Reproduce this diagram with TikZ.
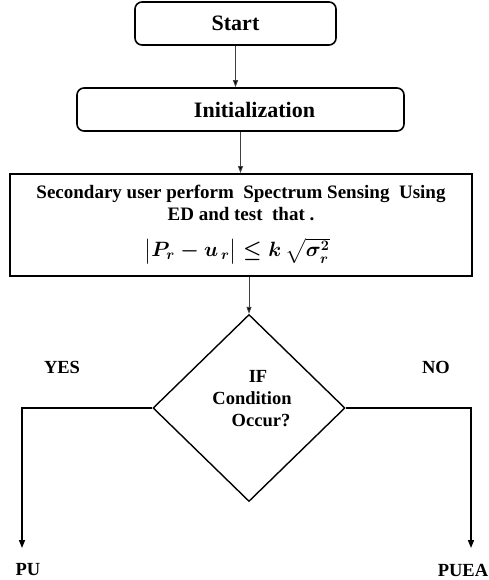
\documentclass[tikz,border=0pt]{standalone}
\usepackage{amsmath}
\usepackage{fontspec}
\setmainfont{Liberation Serif}
\usetikzlibrary{calc, shapes, shapes.geometric, arrows.meta}

\begin{document}
\begin{tikzpicture}[x=1pt,y=-1pt,
        roundbox/.style={draw, line width=1.6pt, rounded corners=7pt, font=\bfseries\fontsize{22}{24}\selectfont},
        sensetxt/.style={align=center, inner sep=0pt, font=\bfseries\fontsize{19}{22}\selectfont},
        lbl/.style={inner sep=1pt, font=\bfseries\fontsize{18.5}{22}\selectfont},
        flow/.style={draw=black!75, line width=0.9pt, -{Triangle[length=7pt,width=5pt,fill=black]}},
        branch/.style={line width=1.5pt, -{Triangle[length=8pt,width=6pt]}}]
    \useasboundingbox (0,0) rectangle (488,580);

    \node[roundbox, minimum width=201pt, minimum height=43pt] (start) at (235.5,23.5) {Start};
    \node[roundbox, minimum width=327pt, minimum height=43pt] (init) at (240.5,109.5) {\hspace*{28pt}Initialization};
    \node[draw, line width=2pt, minimum width=462pt, minimum height=102pt] (sense) at (241,225) {};
    \node[sensetxt] (sensetext) at (241,203)
        {Secondary user perform\ \ Spectrum Sensing\ \ Using\\
         ED and test\ \ that .};
    \node[inner sep=0pt, font=\fontsize{20}{22}\selectfont\boldmath] (ruletext) at (237,251)
        {$\left|P_r - u_{\,r}\vphantom{\sqrt{\sigma_r^2}}\right| \le k\,\sqrt{\sigma_r^2}$};
    \node[draw, diamond, line width=1.4pt, minimum width=192pt, minimum height=187pt] (cond) at (249,408) {};
    \node[lbl, align=center] (condtext) at (252,399)
        {\hspace*{12pt}IF\\Condition\\\hspace*{18pt}Occur?};

    \node[lbl] (yes) at (62,367) {YES};
    \node[lbl] (no) at (436,367) {NO};
    \node[lbl] (pu) at (28,570) {PU};
    \node[lbl] (puea) at (463,570) {PUEA};
    \coordinate (puend) at (22,548);
    \coordinate (pueaend) at (471,548);

    \draw[flow] (start.south) -- (start.south |- init.north);
    \draw[flow] (init.south) -- (init.south |- sense.north);
    \draw[flow] (sense.south -| cond.north) -- (cond.north);
    \draw[branch] (cond.west) -| (puend);
    \draw[branch] (cond.east) -| (pueaend);
\end{tikzpicture}
\end{document}
